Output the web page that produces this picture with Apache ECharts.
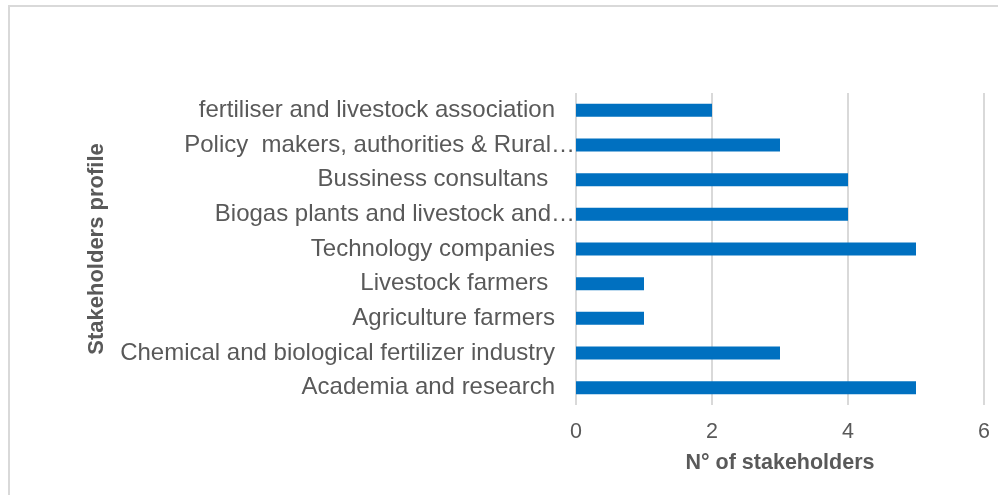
<!DOCTYPE html>
<html>
<head>
<meta charset="utf-8">
<script src="https://cdn.jsdelivr.net/npm/echarts@6/dist/echarts.min.js"></script>
<style>
  html, body { margin: 0; padding: 0; background: #fff; }
  #frame { position: absolute; left: 8px; top: 5px; width: 1000px; height: 500px;
           border-left: 2px solid #d9d9d9; border-top: 2px solid #d9d9d9; box-sizing: border-box; }
  #chart { position: absolute; left: 0; top: 0; width: 998px; height: 495px; }
</style>
</head>
<body>
<div id="frame"></div>
<div id="chart"></div>
<script>
// Stakeholder profiles, listed bottom to top as drawn on the category axis
const categories = [
  'Academia and research',
  'Chemical and biological fertilizer industry',
  'Agriculture farmers',
  'Livestock farmers ',
  'Technology companies',
  'Biogas plants and livestock and\u2026',
  'Bussiness consultans ',
  'Policy  makers, authorities & Rural\u2026',
  'fertiliser and livestock association'
];
const stakeholderCounts = [5, 3, 1, 1, 5, 4, 4, 3, 2];
const xTicks = [0, 2, 4, 6];

const chart = echarts.init(document.getElementById('chart'), null, { renderer: 'canvas' });
const textColor = '#595959';
const font = 'Liberation Sans, Arial, sans-serif';
const labelStyle = { color: textColor, fontSize: 24, fontFamily: font };

chart.setOption({
  animation: false,
  grid: { left: 576, right: 14, top: 93, bottom: 90, containLabel: false },
  xAxis: {
    type: 'value',
    min: xTicks[0],
    max: xTicks[xTicks.length - 1],
    interval: 2,
    name: 'N\u00b0 of stakeholders',
    nameLocation: 'middle',
    nameGap: 47,
    nameTextStyle: { color: textColor, fontSize: 21.5, fontWeight: 'bold', fontFamily: font },
    axisLine: { show: false },
    axisTick: { show: false },
    axisLabel: { color: textColor, fontSize: 21.5, fontFamily: font, margin: 16 },
    splitLine: { show: true, lineStyle: { color: '#d9d9d9', width: 2 } }
  },
  yAxis: {
    type: 'category',
    data: categories,
    name: 'Stakeholders profile',
    nameLocation: 'middle',
    nameGap: 468,
    nameTextStyle: { color: textColor, fontSize: 22, fontWeight: 'bold', fontFamily: font },
    axisLine: { show: false },
    axisTick: { show: false },
    axisLabel: {
      color: textColor, fontSize: 24, fontFamily: font, margin: 1,
      // shortened labels run up to the axis; full ones keep a gap
      formatter: v => v.endsWith('\u2026') ? '{cut|' + v + '}' : '{full|' + v + '}',
      rich: {
        full: Object.assign({ padding: [0, 20, 0, 0] }, labelStyle),
        cut: Object.assign({}, labelStyle)
      }
    }
  },
  series: [{
    type: 'bar',
    data: stakeholderCounts,
    barWidth: 13,
    itemStyle: { color: '#0070c0' }
  }]
});
</script>
</body>
</html>
